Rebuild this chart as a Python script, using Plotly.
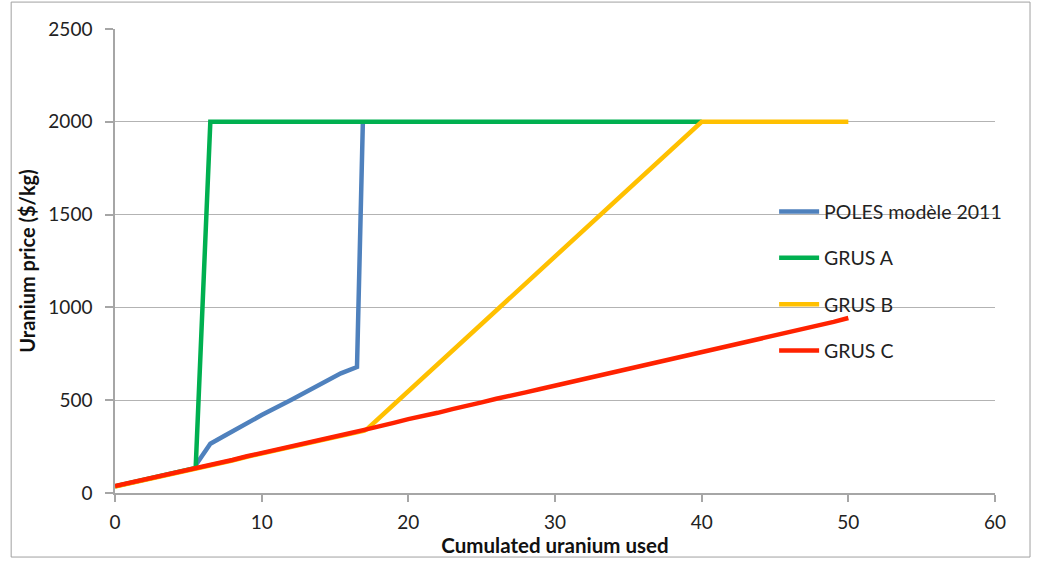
import plotly.graph_objects as go

# Cumulated uranium used (x) and uranium price in $/kg (y) for each scenario
poles_x = [5.5, 6.5, 7.5, 9.0, 10.0, 12.0, 14.0, 15.4, 16.5, 16.9]
poles_y = [150, 265, 310, 377, 420, 501, 585, 645, 679, 2000]

grus_a_x = [0, 1, 2, 3, 4, 5, 5.5, 6.5, 40]
grus_a_y = [36, 53, 70, 90, 106, 123, 135, 2000, 2000]

grus_b_x = [0, 1, 2, 3, 4, 5, 6, 7, 8, 9, 10, 11, 12, 13, 14, 15, 16, 17, 17.2, 40, 50]
grus_b_y = [35, 52, 69, 89, 105, 122, 142, 157, 175, 195, 212, 229, 246, 264, 283, 300, 318, 336, 345, 2000, 2000]

grus_c_x = list(range(0, 51))
grus_c_y = [38, 55, 72, 92, 108, 125, 145, 160, 178, 198,
            215, 232, 250, 268, 287, 305, 322, 340, 362, 378,
            398, 413, 432, 452, 468, 488, 508, 522, 542, 560,
            578, 597, 612, 632, 650, 668, 687, 703, 722, 742,
            758, 775, 795, 812, 830, 850, 867, 885, 905, 922, 943]

x_ticks = [0, 10, 20, 30, 40, 50, 60]
y_ticks = [0, 500, 1000, 1500, 2000, 2500]

series = [
    ("POLES modèle 2011", poles_x, poles_y, "#4F81BD"),
    ("GRUS A", grus_a_x, grus_a_y, "#00B050"),
    ("GRUS B", grus_b_x, grus_b_y, "#FFC000"),
    ("GRUS C", grus_c_x, grus_c_y, "#FF2200"),
]

fig = go.Figure()
for name, xs, ys, color in series:
    fig.add_trace(go.Scatter(
        x=xs, y=ys, name=name, mode="lines", legendgroup=name,
        line=dict(color=color, width=4.5),
    ))

font_family = "Lato, 'Open Sans', sans-serif"
axis_grey = "#A6A6A6"

fig.update_layout(
    width=1038, height=563,
    margin=dict(l=115, r=43, t=29, b=70),
    paper_bgcolor="white", plot_bgcolor="white",
    font=dict(family=font_family, size=19, color="#222222"),
    showlegend=True,
    legend=dict(
        x=0.749, y=0.648, xanchor="left", yanchor="top",
        bgcolor="rgba(0,0,0,0)", borderwidth=0,
        font=dict(size=19.5, color="#222222"),
        tracegroupgap=18, itemwidth=40,
    ),
    xaxis=dict(
        range=[0, 60], tickvals=x_ticks, ticktext=[str(v) for v in x_ticks],
        showgrid=False, zeroline=False,
        showline=True, linecolor=axis_grey, linewidth=1.5,
        ticks="outside", ticklen=7, tickcolor=axis_grey, tickwidth=1.5,
        ticklabelstandoff=4,
        title=dict(text="<b>Cumulated uranium used</b>", standoff=0,
                   font=dict(size=20.5, color="#111111")),
    ),
    yaxis=dict(
        range=[0, 2500], tickvals=y_ticks, ticktext=[str(v) for v in y_ticks],
        showgrid=True, gridcolor="#B3B3B3", gridwidth=1, zeroline=False,
        showline=True, linecolor=axis_grey, linewidth=1.5,
        ticks="outside", ticklen=8, tickcolor=axis_grey, tickwidth=1.5,
        ticklabelstandoff=9,
        title=dict(text="<b>Uranium price ($/kg)</b>", standoff=7,
                   font=dict(size=20, color="#111111")),
    ),
    shapes=[dict(
        type="rect", xref="paper", yref="paper",
        x0=-0.118, x1=1.0398, y0=-0.138, y1=1.058,
        line=dict(color="#A0A0A0", width=1), fillcolor="rgba(0,0,0,0)",
        layer="below",
    )],
)

fig.write_html("out.html")
